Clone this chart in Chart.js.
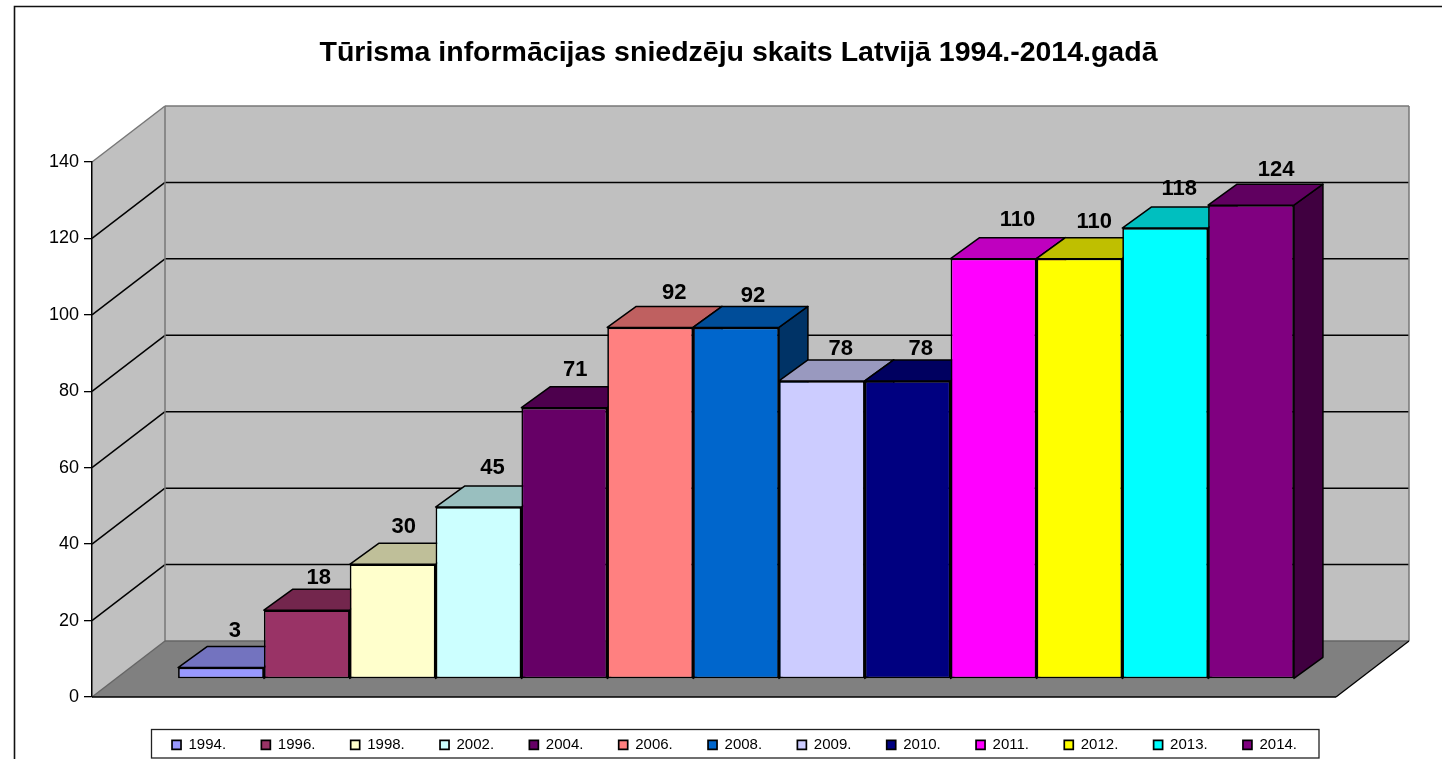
<!DOCTYPE html>
<html>
<head>
<meta charset="utf-8">
<title>Tūrisma informācijas sniedzēju skaits</title>
<script src="https://cdn.jsdelivr.net/npm/chart.js@4/dist/chart.umd.min.js"></script>
<style>
  html, body { margin: 0; padding: 0; background: #fff; overflow: hidden; }
  canvas { display: block; }
</style>
</head>
<body>
<canvas id="chart" width="1442" height="759"></canvas>
<script>
const chartTitle = "Tūrisma informācijas sniedzēju skaits Latvijā 1994.-2014.gadā";
const category = [""];
const years = ["1994.", "1996.", "1998.", "2002.", "2004.", "2006.", "2008.", "2009.", "2010.", "2011.", "2012.", "2013.", "2014."];
const values = [3, 18, 30, 45, 71, 92, 92, 78, 78, 110, 110, 118, 124];
const colors = ["#9999FF", "#993366", "#FFFFCC", "#CCFFFF", "#660066", "#FF8080", "#0066CC", "#CCCCFF", "#000080", "#FF00FF", "#FFFF00", "#00FFFF", "#800080"];
const yMax = 140;
const yStep = 20;

// the source chart nudges some value labels, so each one gets its own shift from the bar
const labelShiftX = [14, 12, 11, 14, 11, 24, 17, 19, 13, 24, 15, 14, 25];
const labelShiftY = [-37, -32, -37, -39, -38, -34, -31, -32, -32, -39, -37, -39, -35];

const font = "Liberation Sans";
const wallColor = "#C0C0C0";
const floorColor = "#808080";
const edgeColor = "#777777";

// depth of the box behind the front plane, and where the bars sit inside it
const depth = { x: 73, y: -56 };
const barPlane = { x: 22, y: -18 };
const barDepth = { x: 29, y: -21 };

function shade(hex, k) {
  const n = parseInt(hex.slice(1), 16);
  const r = Math.round(((n >> 16) & 255) * k);
  const g = Math.round(((n >> 8) & 255) * k);
  const b = Math.round((n & 255) * k);
  return `rgb(${r},${g},${b})`;
}

function poly(ctx, pts, fill, stroke, width) {
  ctx.beginPath();
  pts.forEach((p, i) => (i ? ctx.lineTo(p[0], p[1]) : ctx.moveTo(p[0], p[1])));
  ctx.closePath();
  if (fill) {
    ctx.fillStyle = fill;
    ctx.fill();
  }
  if (stroke) {
    ctx.strokeStyle = stroke;
    ctx.lineWidth = width;
    ctx.stroke();
  }
}

function line(ctx, x1, y1, x2, y2, color, width) {
  ctx.beginPath();
  ctx.moveTo(x1, y1);
  ctx.lineTo(x2, y2);
  ctx.strokeStyle = color;
  ctx.lineWidth = width;
  ctx.stroke();
}

const box3d = {
  id: "box3d",
  beforeInit(chart) {
    // spacing between legend items comes from labels.padding, which would make the legend too tall
    const fit = chart.legend.fit;
    chart.legend.fit = function () {
      fit.call(this);
      this.height = 62;
    };
  },
  afterLayout(chart) {
    chart.titleBlock.left = 0;
    chart.titleBlock.right = 1477;
    chart.legend.left = 13.5;
    chart.legend.right = 1455.5;
    chart.legend.top = 702;
  },
  beforeDraw(chart) {
    const { ctx, chartArea: a, scales } = chart;
    const dx = depth.x;
    const dy = depth.y;
    ctx.save();

    // outer frame, open on the right and at the bottom
    ctx.beginPath();
    ctx.moveTo(14.5, 759);
    ctx.lineTo(14.5, 6.5);
    ctx.lineTo(1442, 6.5);
    ctx.strokeStyle = "#111";
    ctx.lineWidth = 1.6;
    ctx.stroke();

    // walls and floor
    poly(ctx, [[a.left + dx, a.top + dy], [a.right + dx, a.top + dy], [a.right + dx, a.bottom + dy], [a.left + dx, a.bottom + dy]], wallColor);
    poly(ctx, [[a.left, a.top], [a.left + dx, a.top + dy], [a.left + dx, a.bottom + dy], [a.left, a.bottom]], wallColor);
    poly(ctx, [[a.left, a.bottom], [a.left + dx, a.bottom + dy], [a.right + dx, a.bottom + dy], [a.right, a.bottom]], floorColor);

    // gridlines run along the side wall and the back wall
    scales.y.ticks.forEach((t) => {
      if (t.value === 0 || t.value === yMax) return;
      const y = scales.y.getPixelForValue(t.value);
      line(ctx, a.left, y, a.left + dx, y + dy, "#000", 1.5);
      line(ctx, a.left + dx, y + dy, a.right + dx, y + dy, "#000", 1.5);
    });

    // box edges
    line(ctx, a.left, a.top, a.left + dx, a.top + dy, edgeColor, 1.5);
    line(ctx, a.left + dx, a.top + dy, a.right + dx, a.top + dy, edgeColor, 1.5);
    line(ctx, a.right + dx, a.top + dy, a.right + dx, a.bottom + dy, edgeColor, 1.5);
    line(ctx, a.left + dx, a.top + dy, a.left + dx, a.bottom + dy, edgeColor, 1.5);
    line(ctx, a.left + dx, a.bottom + dy, a.right + dx, a.bottom + dy, "#666", 1.5);
    line(ctx, a.left, a.bottom, a.left + dx, a.bottom + dy, "#666", 1.5);
    line(ctx, a.right, a.bottom, a.right + dx, a.bottom + dy, "#000", 1.3);
    line(ctx, a.left, a.bottom, a.right, a.bottom, "#000", 1.5);

    // legend frame
    ctx.strokeStyle = "#222";
    ctx.lineWidth = 1.3;
    ctx.strokeRect(151.5, 729.5, 1167.5, 28.5);
    ctx.restore();
  },
  beforeDatasetsDraw(chart) {
    const ctx = chart.ctx;
    ctx.save();
    ctx.translate(barPlane.x, barPlane.y);

    // left to right, so each bar covers the sides of the one before it
    chart.data.datasets.forEach((ds, i) => {
      const meta = chart.getDatasetMeta(i);
      const bar = meta.data[0].getProps(["x", "y", "base", "width"], true);
      const left = bar.x - bar.width / 2;
      const right = bar.x + bar.width / 2;
      const bx = barDepth.x;
      const by = barDepth.y;
      const color = colors[i];
      ctx.lineJoin = "round";
      poly(ctx, [[right, bar.y], [right + bx, bar.y + by], [right + bx, bar.base + by], [right, bar.base]], shade(color, 0.5), "#000", 1.5);
      poly(ctx, [[left, bar.y], [left + bx, bar.y + by], [right + bx, bar.y + by], [right, bar.y]], shade(color, 0.75), "#000", 1.5);
      meta.controller.draw();
    });

    ctx.fillStyle = "#000";
    ctx.font = `bold 22px "${font}"`;
    ctx.textAlign = "center";
    ctx.textBaseline = "middle";
    chart.data.datasets.forEach((ds, i) => {
      const bar = chart.getDatasetMeta(i).data[0];
      ctx.fillText(String(values[i]), bar.x + labelShiftX[i], bar.y + labelShiftY[i]);
    });
    ctx.restore();
    return false;
  },
};

new Chart(document.getElementById("chart"), {
  type: "bar",
  data: {
    labels: category,
    datasets: years.map((year, i) => ({
      label: year,
      data: [values[i]],
      backgroundColor: colors[i],
      borderColor: "#000",
      borderWidth: 1.7,
      borderSkipped: false,
      categoryPercentage: 0.897,
      barPercentage: 1,
      clip: false,
    })),
  },
  options: {
    responsive: false,
    animation: false,
    layout: { padding: { left: 0, right: 106, top: 0, bottom: 0 } },
    plugins: {
      title: {
        display: true,
        text: chartTitle,
        color: "#000",
        font: { family: font, size: 28.5, weight: "bold", lineHeight: 1.2 },
        padding: { top: 36, bottom: 91.8 },
      },
      legend: {
        display: true,
        position: "bottom",
        labels: {
          boxWidth: 9,
          boxHeight: 9,
          padding: 35.3,
          color: "#000",
          font: { family: font, size: 15 },
        },
      },
      tooltip: { enabled: false },
    },
    scales: {
      x: { display: false },
      y: {
        min: 0,
        max: yMax,
        afterFit(scale) {
          scale.width = 92;
        },
        ticks: {
          stepSize: yStep,
          color: "#000",
          padding: 5,
          font: { family: font, size: 18 },
        },
        grid: { drawOnChartArea: false, tickLength: 8, color: "#000", lineWidth: 1.3 },
        border: { color: "#000", width: 1.5 },
      },
    },
  },
  plugins: [box3d],
});
</script>
</body>
</html>
